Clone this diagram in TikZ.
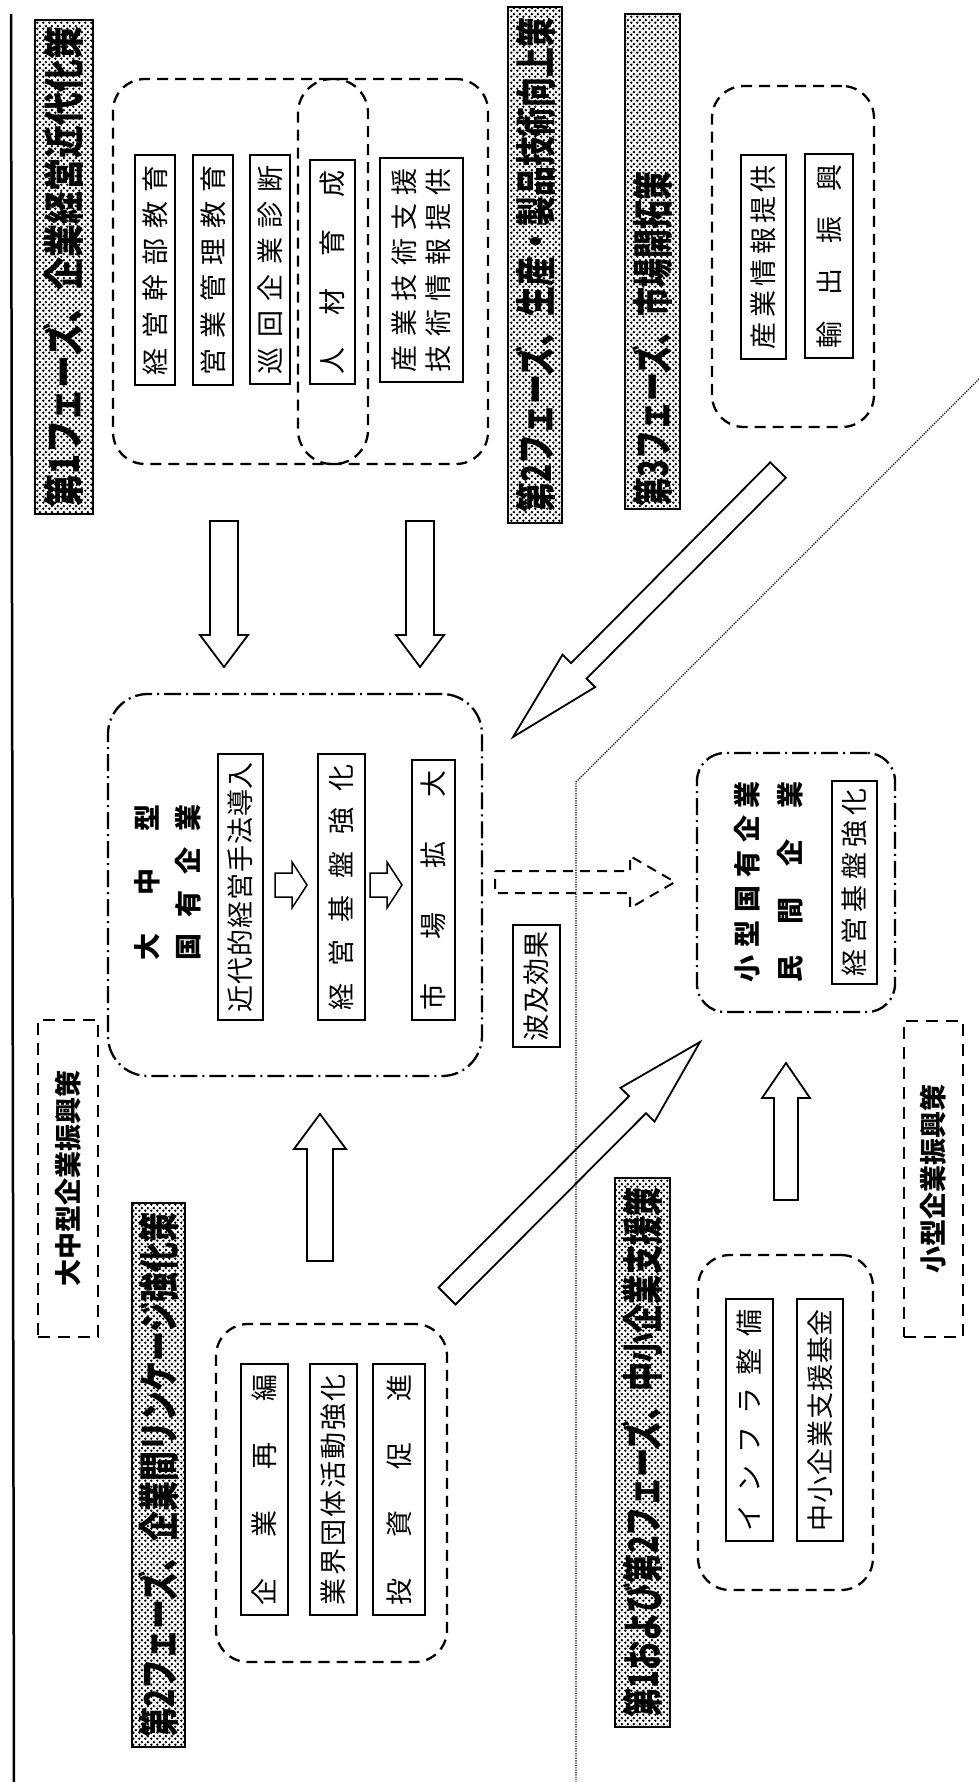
\documentclass[tikz,border=0pt]{standalone}
\usepackage{fontspec}
\usepackage{graphicx}
\newfontfamily\jp{Noto Sans CJK JP}
\usetikzlibrary{patterns.meta}

\let\sprend\relax
\def\spr#1{\sprA#1\sprend}
\def\sprA#1#2\sprend{#1\ifx\sprend#2\sprend\else\hfil\sprA#2\sprend\fi}
\newcommand{\vt}[2]{\rotatebox{90}{\hbox to #1{\spr{#2}}}}
\newcommand{\rg}[7]{\node[#1,minimum width={(#5-#3)*1pt},minimum height={(#6-#4)*1pt}] (#2) at ({(#3+#5)/2},{(#4+#6)/2}) {#7};}

\tikzdeclarepattern{
  name=bdots,
  type=uncolored,
  bounding box={(0pt,0pt) and (6pt,6pt)},
  tile size={(6pt,6pt)},
  code={
    \fill (1.5pt,1.5pt) circle (1.55pt);
    \fill (4.5pt,4.5pt) circle (1.55pt);
  }
}

\tikzset{
  sbox/.style={draw, line width=1.5pt, inner sep=0pt, font=\jp\fontsize{27}{30}\selectfont},
  grp/.style={draw, line width=2.3pt, dash pattern=on 11pt off 7pt, rounded corners=32pt, inner sep=0pt},
  dgrp/.style={draw, line width=2.3pt, dash pattern=on 17pt off 5pt on 2pt off 5pt, rounded corners=40pt, inner sep=0pt},
  lbl/.style={draw, line width=2.5pt, dash pattern=on 12pt off 8pt, inner sep=0pt, font=\jp\bfseries\fontsize{27}{30}\selectfont},
  banner/.style={draw, line width=2pt, pattern=bdots, pattern color=black, inner sep=0pt},
  btext/.style={inner sep=0pt, font=\jp\bfseries},
  ttl/.style={inner sep=0pt, font=\jp\bfseries\fontsize{27}{30}\selectfont},
  barrow/.style={draw, line width=1.8pt, line join=miter},
  dbarrow/.style={draw, line width=2pt, dash pattern=on 10pt off 7pt},
  divider/.style={line width=1.2pt, dash pattern=on 1.2pt off 1.2pt},
}

\begin{document}
\begin{tikzpicture}[x=1pt,y=-1pt]
\useasboundingbox (0,0) rectangle (979,1782);
\fill[white] (0,0) rectangle (979,1782);

% left rule
\coordinate (LT) at (11,14);
\coordinate (LB) at (14,1782);
\draw[line width=2.5pt] (LT) -- (LB);

% ---------- banners ----------
\rg{banner}{B1}{35}{20}{93}{514}{}
\node[btext] (B1t) at (B1) {\rotatebox{90}{\resizebox{480pt}{36pt}{第1フェーズ、企業経営近代化策}}};
\rg{banner}{B2}{508}{7}{562}{523}{}
\node[btext] (B2t) at (B2) {\rotatebox{90}{\resizebox{495pt}{36pt}{第2フェーズ、生産・製品技術向上策}}};
\rg{banner}{B3}{625}{14}{680}{509}{}
\node[btext] (B3t) at (652.5,339) {\rotatebox{90}{\resizebox{334pt}{36pt}{第3フェーズ、市場開拓策}}};
\rg{banner}{B4}{132}{1203}{185}{1747}{}
\node[btext] (B4t) at (B4) {\rotatebox{90}{\resizebox{525pt}{36pt}{第2フェーズ、企業間リンケージ強化策}}};
\rg{banner}{B5}{615}{1178}{670}{1727}{}
\node[btext] (B5t) at (B5) {\rotatebox{90}{\resizebox{530pt}{36pt}{第1および第2フェーズ、中小企業支援策}}};

% ---------- phase 1 group ----------
\rg{grp}{G1}{113}{79}{488}{464}{}
\rg{grp, rounded corners=34pt}{G1c}{298}{79}{368}{464}{}
\rg{sbox}{b11}{135}{155}{175}{385}{\vt{210pt}{経営幹部教育}}
\rg{sbox}{b12}{193}{155}{233}{385}{\vt{210pt}{営業管理教育}}
\rg{sbox}{b13}{250}{155}{290}{384}{\vt{209pt}{巡回企業診断}}
\rg{sbox}{b14}{310}{160}{355}{384}{\vt{204pt}{人材育成}}
\rg{sbox}{b15}{380}{158}{463}{382}{\rotatebox{90}{\vbox{\baselineskip=34pt\hbox to 204pt{\spr{産業技術支援}}\hbox to 204pt{\spr{技術情報提供}}}}}

% ---------- phase 3 group ----------
\rg{grp}{G3}{712}{86}{874}{427}{}
\rg{sbox}{b31}{741}{155}{786}{359}{\vt{184pt}{産業情報提供}}
\rg{sbox}{b32}{805}{154}{853}{358}{\vt{184pt}{輸出振興}}

% ---------- centre box ----------
\rg{dgrp}{C}{108}{694}{482}{1076}{}
\node[ttl] (Ct) at (167.5,882) {\rotatebox{90}{\vbox{\baselineskip=41pt\hbox to 156pt{\spr{大中型}}\hbox to 156pt{\spr{国有企業}}}}};
\rg{sbox}{c1}{218}{754}{263}{1020}{\vt{250pt}{近代的経営手法導入}}
\rg{sbox}{c2}{318}{754}{365}{1020}{\vt{246pt}{経営基盤強化}}
\rg{sbox}{c3}{412}{760}{455}{1020}{\vt{240pt}{市場拡大}}
\draw[barrow, line width=1.5pt] (275,873) -- (292,873) -- (292,862) -- (307,885) -- (292,908) -- (292,897) -- (275,897) -- cycle;
\draw[barrow, line width=1.5pt] (370,873) -- (387,873) -- (387,862) -- (402,885) -- (387,908) -- (387,897) -- (370,897) -- cycle;

% ripple effect
\rg{sbox}{hk}{513}{925}{560}{1047}{\vt{110pt}{波及効果}}
\draw[dbarrow] (495,871) -- (630,871) -- (630,856) -- (675,882) -- (630,908) -- (630,893) -- (495,893) -- cycle;

% ---------- small enterprise box ----------
\rg{dgrp, rounded corners=28pt}{S}{697}{753}{895}{1012}{}
\node[ttl] (St) at (768.5,881.5) {\rotatebox{90}{\vbox{\baselineskip=43pt\hbox to 201pt{\spr{小型国有企業}}\hbox to 201pt{\spr{民間企業}}}}};
\rg{sbox}{s1}{832}{781}{877}{984}{\vt{188pt}{経営基盤強化}}

% ---------- policy labels ----------
\rg{lbl}{L1}{38}{1020}{98}{1337}{\rotatebox{90}{大中型企業振興策}}
\rg{lbl}{L2}{904}{1021}{963}{1337}{\rotatebox{90}{小型企業振興策}}

% ---------- phase 2 linkage group ----------
\rg{grp}{G2}{216}{1324}{447}{1662}{}
\rg{sbox}{b21}{241}{1364}{288}{1615}{\vt{231pt}{企業再編}}
\rg{sbox}{b22}{310}{1364}{357}{1615}{\vt{231pt}{業界団体活動強化}}
\rg{sbox}{b23}{373}{1364}{425}{1615}{\vt{231pt}{投資促進}}

% ---------- SME support group ----------
\rg{grp}{G4}{698}{1255}{873}{1590}{}
\rg{sbox}{b41}{726}{1299}{773}{1541}{\vt{222pt}{インフラ整備}}
\rg{sbox}{b42}{797}{1299}{843}{1541}{\vt{222pt}{中小企業支援基金}}

% ---------- block arrows ----------
% phase1 -> centre (down)
\draw[barrow] (210,521) -- (238,521) -- (238,635) -- (248,635) -- (224,667) -- (200,635) -- (210,635) -- cycle;
\draw[barrow] (406,521) -- (434,521) -- (434,635) -- (444,635) -- (420,667) -- (396,635) -- (406,635) -- cycle;
% linkage group -> centre (up)
\draw[barrow] (307,1261) -- (333,1261) -- (333,1149) -- (346,1149) -- (320,1114) -- (294,1149) -- (307,1149) -- cycle;
% SME group -> small box (up)
\draw[barrow] (774,1200) -- (798,1200) -- (798,1098) -- (810,1098) -- (786,1063) -- (762,1098) -- (774,1098) -- cycle;
% phase3 -> centre (diagonal)
\draw[barrow] (785.8,477.7) -- (770.2,462.3) -- (571.0,663.2) -- (562.5,654.7) -- (513,737) -- (595.1,687.1) -- (586.6,678.6) -- cycle;
% linkage group -> small box (diagonal)
\draw[barrow] (438.5,1287.5) -- (455.5,1304.5) -- (646.0,1113.2) -- (654.5,1121.6) -- (700,1042) -- (620.5,1087.8) -- (629.0,1096.2) -- cycle;

% ---------- divider ----------
\coordinate (D1) at (979,379);
\coordinate (D2) at (576,782);
\coordinate (D3) at (576,1782);
\draw[divider] (D1) -- (D2) -- (D3);
\end{tikzpicture}
\end{document}
